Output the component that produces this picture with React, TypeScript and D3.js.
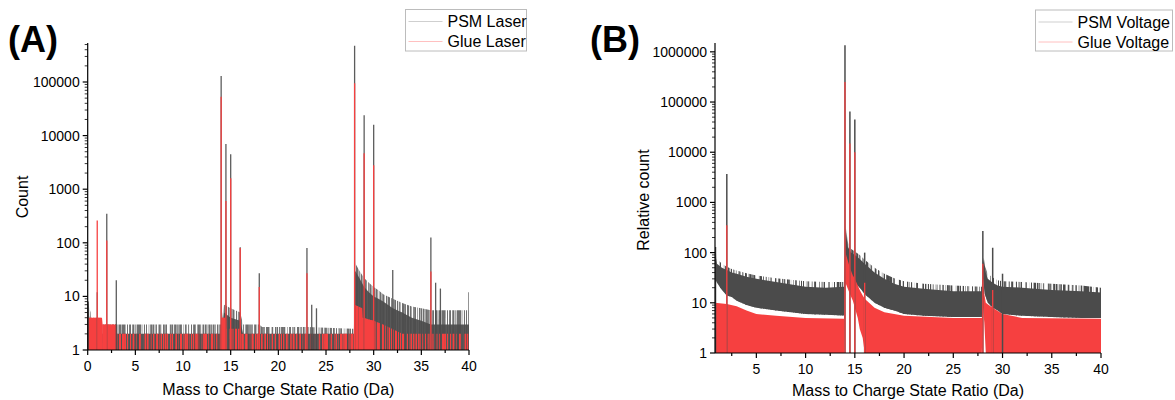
import React from "react";
import * as d3 from "d3";

// ---------------- Panel A : laser mode ----------------
const laserBandX = [0, 0.3, 0.35, 13.9, 14.0, 14.3, 15.0, 16.0, 16.3, 18.0, 18.3, 23.0, 27.8, 27.95, 28.05, 28.5, 29.0, 29.5, 30.0, 30.5, 31.0, 32.0, 33.0, 34.0, 35.0, 36.0, 38.0, 40.0];
const psmLaserCore = [6, 3, 2, 2, 2, 5, 4, 3.5, 2, 2, 2, 2, 2, 2, 30, 22, 15, 12, 10, 9, 8, 6, 5, 4, 3.5, 3, 3, 3];
const psmLaserFuzz = [8, 5, 3, 3, 3, 7, 6, 5, 3, 3, 2.7, 2.7, 2.5, 2.5, 42, 30, 22, 18, 15, 13, 11, 9, 7.5, 6.5, 6, 5.5, 5.5, 5.5];

const glueBandX = [0, 1.5, 1.55, 3.0, 3.05, 13.9, 14.0, 14.5, 14.55, 16.0, 16.05, 27.9, 28.0, 28.8, 28.85, 30.0, 31.0, 33.0, 40.0];
const glueLaserCore = [4, 4, 3, 3, 2, 2, 4, 4, 2.5, 2.5, 2, 2, 7, 6, 4, 3.5, 3, 2, 2];
const glueSolidX = [0, 1.5, 1.55, 3.0, 3.05, 13.95, 14.0, 14.5, 14.55, 27.95, 28.0, 28.8, 28.85, 30.0, 30.05, 40.0];
const glueLaserSolid = [4, 4, 3, 3, 1, 1, 4, 4, 1, 1, 7, 6, 4, 3.5, 1, 1];

const psmLaserPeakX = [0.05, 1.0, 2.0, 3.0, 14.0, 14.5, 15.0, 16.0, 18.0, 23.0, 23.5, 24.0, 28.0, 29.0, 30.0, 32.0, 36.0, 36.5, 37.0, 40.0];
const psmLaserPeakY = [8, 12, 350, 20, 130000, 7000, 4500, 83, 27, 80, 7, 6, 475000, 24000, 16000, 31, 125, 18, 14, 12];
const glueLaserPeakX = [1.0, 2.0, 14.0, 14.5, 15.0, 16.0, 18.0, 23.0, 28.0, 29.0, 30.0, 36.0];
const glueLaserPeakY = [260, 110, 53000, 600, 1600, 80, 15, 27, 95000, 4700, 2800, 29];

// ---------------- Panel B : voltage mode ----------------
const psmVoltX = [0.8, 1.0, 1.5, 2.0, 2.5, 3.0, 4.0, 5.0, 7.0, 10.0, 12.0, 13.9, 14.05, 14.3, 14.6, 15.0, 15.5, 16.0, 17.0, 18.0, 19.0, 20.0, 22.0, 25.0, 27.9, 28.05, 28.2, 28.5, 29.0, 29.5, 30.0, 32.0, 35.0, 38.0, 40.0];
const psmVoltHigh = [100, 60, 50, 45, 40, 38, 33, 30, 26, 21, 20, 21, 300, 130, 100, 90, 75, 60, 40, 30, 24, 21, 19, 17, 17, 80, 45, 30, 25, 22, 21, 20, 18, 17, 16];
const psmVoltFuzz = [130, 75, 60, 52, 47, 44, 39, 35, 31, 27, 26, 26, 350, 160, 120, 105, 90, 72, 50, 38, 31, 27, 24, 22, 21, 95, 55, 38, 32, 28, 27, 26, 24, 22, 20];
const psmVoltLow = [30, 25, 18, 14, 13, 11, 9, 8, 7, 6, 5.8, 5.6, 40, 35, 30, 25, 20, 15, 10, 8, 7, 6, 5.5, 5.2, 5.2, 30, 15, 10, 8, 7, 6, 5.5, 5.2, 5, 5];

const glueVoltX = [0.8, 2.0, 3.0, 4.0, 5.0, 7.0, 10.0, 13.9, 14.05, 14.5, 14.8, 15.0, 15.3, 15.5, 15.8, 16.0, 17.0, 18.0, 20.0, 25.0, 27.9, 28.02, 28.15, 28.3, 28.6, 29.0, 30.0, 32.0, 40.0];
const glueVoltHigh = [10, 9.5, 8.5, 7, 6, 5.5, 5, 4.8, 100, 50, 35, 30, 22, 18, 14, 12, 8, 6.5, 5.5, 5, 5, 30, 15, 10, 9, 8, 6, 5, 4.8];
const glueVoltLow = [1, 1, 1, 1, 1, 1, 1, 1, 25, 15, 11, 8, 5, 3, 2, 1, 1, 1, 1, 1, 1, 8, 4, 1, 1, 1, 1, 1, 1];

const psmVoltPeakX = [0.85, 2.0, 14.0, 14.5, 15.0, 16.0, 28.0, 29.0, 30.0];
const psmVoltPeakY = [130, 3700, 1350000, 65000, 45000, 100, 270, 125, 38];
const glueVoltPeakX = [2.0, 14.0, 14.5, 15.0, 16.0, 28.0, 29.0];
const glueVoltPeakY = [350, 250000, 15000, 10000, 25, 60, 18];

const xTickValues = [0, 5, 10, 15, 20, 25, 30, 35, 40];
const yTickValues = [1, 10, 100, 1000, 10000, 100000, 1000000];

const FONT = "'Liberation Sans', Arial, Helvetica, sans-serif";
const GRAY = "#4b4b4b";
const RED = "#f64040";
const LEGEND_COLORS = ["#cfcfcf", "#ffc0c0"];

type Band = { fill: string; xs: number[]; hi: number[]; lo?: number[]; filter?: string; opacity?: number };
type Peaks = { color: string; xs: number[]; ys: number[]; width: number; opacity?: number };

type PanelProps = {
  id: string;
  left: number; right: number; top: number; bottom: number;
  xDomain: [number, number];
  yMax: number;
  bands: Band[];
  peaks: Peaks[];
  yTitle: string; yTitleX: number; yTitleY: number;
  xTitleY: number;
  label: string; labelX: number;
  legend: { x: number; y: number; w: number; h: number; names: string[] };
};

function Panel(p: PanelProps) {
  const x = d3.scaleLinear().domain(p.xDomain).range([p.left, p.right]);
  const y = d3.scaleLog().domain([1, p.yMax]).range([p.bottom, p.top]);
  const clipId = "clip" + p.id;

  const majorX = xTickValues.filter((v) => v >= p.xDomain[0] && v <= p.xDomain[1]);
  const minorX = d3.range(2.5, 40, 5).filter((v) => v >= p.xDomain[0] && v <= p.xDomain[1]);
  const majorY = yTickValues.filter((v) => v <= p.yMax);
  const minorY: number[] = [];
  majorY.forEach((d) => {
    for (let k = 2; k <= 9; k++) if (d * k <= p.yMax) minorY.push(d * k);
  });

  return (
    <g>
      <defs>
        <clipPath id={clipId}>
          <rect x={p.left} y={p.top} width={p.right - p.left} height={p.bottom - p.top} />
        </clipPath>
      </defs>
      <g clipPath={`url(#${clipId})`}>
        {p.bands.map((b, i) => {
          const pts = b.xs.map((xv, j) => ({ x: xv, hi: b.hi[j], lo: b.lo ? b.lo[j] : 1 }));
          const area = d3
            .area<{ x: number; hi: number; lo: number }>()
            .x((d) => x(d.x))
            .y0((d) => y(Math.max(1, d.lo)))
            .y1((d) => y(d.hi));
          return (
            <path
              key={i}
              d={area(pts) || ""}
              fill={b.fill}
              opacity={b.opacity ?? 1}
              filter={b.filter ? `url(#${b.filter})` : undefined}
            />
          );
        })}
        {p.peaks.map((pk, i) => (
          <g key={i} stroke={pk.color} strokeWidth={pk.width} opacity={pk.opacity ?? 1}>
            {pk.xs.map((xv, j) => (
              <line key={j} x1={x(xv)} x2={x(xv)} y1={y(1)} y2={y(pk.ys[j])} />
            ))}
          </g>
        ))}
      </g>
      <g stroke="#000" strokeWidth={1.2}>
        <line x1={p.left} x2={p.left} y1={p.top} y2={p.bottom} />
        <line x1={p.left} x2={p.right} y1={p.bottom} y2={p.bottom} />
        {majorX.map((v) => (
          <line key={"mx" + v} x1={x(v)} x2={x(v)} y1={p.bottom} y2={p.bottom + 5} />
        ))}
        {minorX.map((v) => (
          <line key={"nx" + v} x1={x(v)} x2={x(v)} y1={p.bottom} y2={p.bottom + 3} />
        ))}
        {majorY.map((v) => (
          <line key={"my" + v} x1={p.left - 5} x2={p.left} y1={y(v)} y2={y(v)} />
        ))}
        {minorY.map((v) => (
          <line key={"ny" + v} x1={p.left - 3} x2={p.left} y1={y(v)} y2={y(v)} strokeWidth={0.8} />
        ))}
      </g>
      <g fontFamily={FONT} fontSize={14} fill="#000">
        {majorX.map((v) => (
          <text key={"tx" + v} x={x(v)} y={p.bottom + 21} textAnchor="middle">
            {v}
          </text>
        ))}
        {majorY.map((v) => (
          <text key={"ty" + v} x={p.left - 8} y={y(v) + 5} textAnchor="end">
            {v}
          </text>
        ))}
      </g>
      <text fontFamily={FONT} fontSize={16} x={(p.left + p.right) / 2} y={p.xTitleY} textAnchor="middle">
        Mass to Charge State Ratio (Da)
      </text>
      <text
        fontFamily={FONT}
        fontSize={16}
        textAnchor="middle"
        transform={`translate(${p.yTitleX},${p.yTitleY}) rotate(-90)`}
        dominantBaseline="central"
      >
        {p.yTitle}
      </text>
      <text fontFamily={FONT} fontSize={36} fontWeight="bold" x={p.labelX} y={52}>
        {p.label}
      </text>
      <g>
        <rect
          x={p.legend.x}
          y={p.legend.y}
          width={p.legend.w}
          height={p.legend.h}
          fill="#fff"
          stroke="#bcbcbc"
          strokeWidth={1}
        />
        {p.legend.names.map((n, i) => {
          const cy = p.legend.y + 12 + i * 20;
          return (
            <g key={n}>
              <line
                x1={p.legend.x + 3}
                x2={p.legend.x + 37}
                y1={cy}
                y2={cy}
                stroke={LEGEND_COLORS[i]}
                strokeWidth={1}
              />
              <text x={p.legend.x + 42} y={cy + 5.5} fontFamily={FONT} fontSize={16} fill="#000">
                {n}
              </text>
            </g>
          );
        })}
      </g>
    </g>
  );
}

function Streak({ id, seed, bias, freq }: { id: string; seed: number; bias: number; freq: string }) {
  return (
    <filter id={id} filterUnits="userSpaceOnUse" x={0} y={0} width={1175} height={400} colorInterpolationFilters="sRGB">
      <feTurbulence type="fractalNoise" baseFrequency={freq} numOctaves={2} seed={seed} result="noise" />
      <feColorMatrix
        in="noise"
        type="matrix"
        values={`0 0 0 0 0  0 0 0 0 0  0 0 0 0 0  6 0 0 0 ${bias}`}
        result="mask"
      />
      <feComposite in="SourceGraphic" in2="mask" operator="in" />
    </filter>
  );
}

export default function App() {
  return (
    <svg width={1175} height={400} style={{ display: "block", position: "absolute", left: 0, top: 0, background: "#fff" }}>
      <defs>
        <Streak id="sparse1" seed={3} bias={-2.3} freq="0.8 0.0004" />
        <Streak id="sparseRed" seed={11} bias={-2.5} freq="0.8 0.0004" />
        <Streak id="denseRed" seed={17} bias={-1.2} freq="0.8 0.0004" />
        <Streak id="fuzzB" seed={5} bias={-2.6} freq="1.3 0.0004" />
      </defs>
      <Panel
        id="A"
        left={87.7}
        right={469}
        top={43}
        bottom={350}
        xDomain={[0, 40]}
        yMax={534000}
        bands={[
          { fill: GRAY, xs: laserBandX, hi: psmLaserFuzz, filter: "sparse1", opacity: 0.8 },
          { fill: GRAY, xs: laserBandX, hi: psmLaserCore, opacity: 0.92 },
          { fill: RED, xs: glueBandX, hi: glueLaserCore, filter: "sparseRed" },
          { fill: RED, xs: glueSolidX, hi: glueLaserSolid, filter: "denseRed" },
        ]}
        peaks={[
          { color: GRAY, xs: psmLaserPeakX, ys: psmLaserPeakY, width: 1.3, opacity: 0.9 },
          { color: RED, xs: glueLaserPeakX, ys: glueLaserPeakY, width: 1.3 },
        ]}
        yTitle="Count"
        yTitleX={22}
        yTitleY={197}
        xTitleY={395}
        label="(A)"
        labelX={8}
        legend={{ x: 405.5, y: 9.5, w: 121, h: 41.5, names: ["PSM Laser", "Glue Laser"] }}
      />
      <Panel
        id="B"
        left={715}
        right={1101}
        top={43}
        bottom={353}
        xDomain={[0.8, 40]}
        yMax={1500000}
        bands={[
          { fill: GRAY, xs: psmVoltX, hi: psmVoltFuzz, lo: psmVoltLow, filter: "fuzzB" },
          { fill: GRAY, xs: psmVoltX, hi: psmVoltHigh, lo: psmVoltLow },
          { fill: RED, xs: glueVoltX, hi: glueVoltHigh, lo: glueVoltLow },
        ]}
        peaks={[
          { color: GRAY, xs: psmVoltPeakX, ys: psmVoltPeakY, width: 1.5 },
          { color: RED, xs: glueVoltPeakX, ys: glueVoltPeakY, width: 1.3 },
        ]}
        yTitle="Relative count"
        yTitleX={643}
        yTitleY={200}
        xTitleY={396}
        label="(B)"
        labelX={590}
        legend={{ x: 1035.5, y: 10, w: 137, h: 41, names: ["PSM Voltage", "Glue Voltage"] }}
      />
    </svg>
  );
}
